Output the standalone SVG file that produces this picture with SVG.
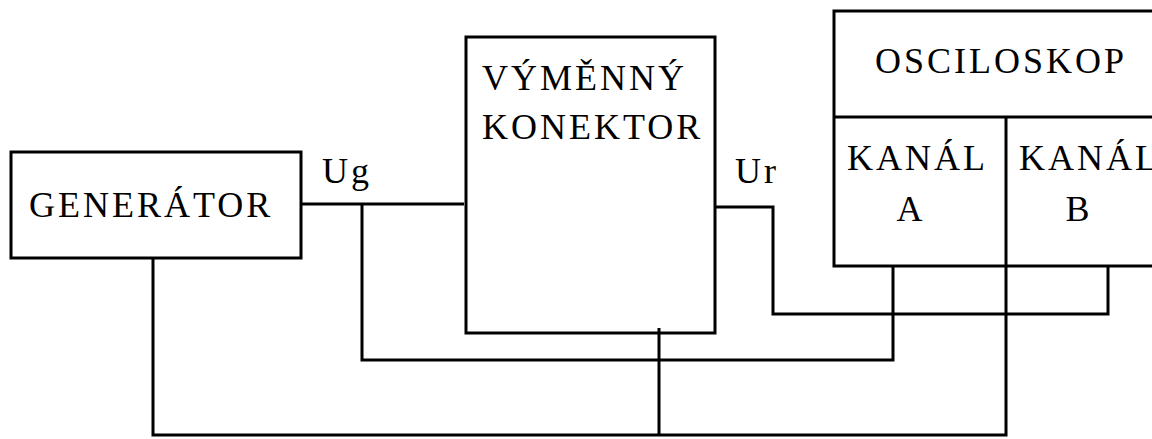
<svg xmlns="http://www.w3.org/2000/svg" width="1152" height="439" viewBox="0 0 1152 439">
<style>
.box{fill:none;stroke:#000;stroke-width:3;stroke-linejoin:miter}
.wire{fill:none;stroke:#000;stroke-width:3;stroke-linejoin:miter}
text{font-family:"Liberation Serif","Times New Roman",serif;font-size:36px;letter-spacing:3px;fill:#000}
</style>
<rect width="1152" height="439" fill="#fff"/>
<g id="connectors">
<polyline class="wire" points="301,204 464,204"/>
<polyline class="wire" points="362,204 362,360 893,360 893,266"/>
<polyline class="wire" points="715,207 773,207 773,314 1108,314 1108,266"/>
<polyline class="wire" points="153,258 153,435 1006,435 1006,266"/>
<polyline class="wire" points="659,328 659,435"/>
</g>
<g id="generator">
<rect class="box" x="11" y="152" width="290" height="106"/>
<text x="29" y="217">GENERÁTOR</text>
</g>
<g id="konektor">
<rect class="box" x="466" y="37" width="249" height="296"/>
<text x="482" y="90">VÝMĚNNÝ</text>
<text x="482" y="139">KONEKTOR</text>
</g>
<g id="osciloskop">
<rect class="box" x="834" y="11" width="330" height="255"/>
<line class="box" x1="834" y1="117" x2="1164" y2="117"/>
<text x="875" y="73">OSCILOSKOP</text>
</g>
<g id="kanal-a">
<text x="847" y="170">KANÁL</text>
<text x="911" y="221" text-anchor="middle">A</text>
</g>
<g id="kanal-b">
<line class="box" x1="1006" y1="117" x2="1006" y2="266"/>
<text x="1019" y="170">KANÁL</text>
<text x="1079" y="221" text-anchor="middle">B</text>
</g>
<g id="labels">
<text x="322" y="183">Ug</text>
<text x="735" y="183">Ur</text>
</g>
</svg>
